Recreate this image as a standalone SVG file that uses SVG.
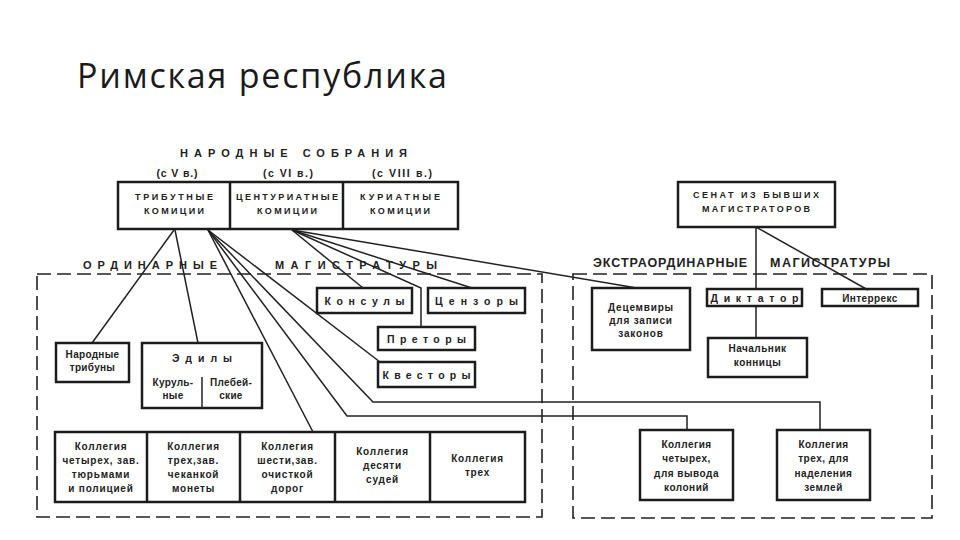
<svg xmlns="http://www.w3.org/2000/svg" width="960" height="540" viewBox="0 0 960 540">
<style>
.bx{fill:none;stroke:#1c1c1c;stroke-width:2.5}
.dash{fill:none;stroke:#222;stroke-width:1.6;stroke-dasharray:14 6}
.ln{fill:none;stroke:#222;stroke-width:1.5}
.t{font-family:"Liberation Sans",Arial,sans-serif;font-weight:bold;fill:#222;text-anchor:middle}
.h{font-size:11px}
.c{font-size:9px}
.m{font-size:10.5px}
.s{font-size:10px;letter-spacing:0.8px}
.title{font-family:"Open Sans","Liberation Sans",sans-serif;font-size:34px;fill:#1a1a1a}
</style>
<rect width="960" height="540" fill="#ffffff"/>
<text class="title" x="77" y="88" textLength="370">Римская республика</text>

<g id="header">
<text class="t h" x="293.5" y="157" textLength="227">НАРОДНЫЕ СОБРАНИЯ</text>
<text class="t" x="177" y="177" style="font-size:10.5px" textLength="41">(с V в.)</text>
<text class="t" x="288" y="177" style="font-size:10.5px" textLength="50">(с VI в.)</text>
<text class="t" x="402" y="177" style="font-size:10.5px" textLength="60">(с VIII в.)</text>
</g>

<g id="comitia">
<rect class="bx" x="118" y="182" width="340" height="47"/>
<line class="bx" x1="230" y1="182" x2="230" y2="229"/>
<line class="bx" x1="343" y1="182" x2="343" y2="229"/>
</g>
<g id="tributnye">
<text class="t c" x="174" y="200" textLength="78">ТРИБУТНЫЕ</text>
<text class="t c" x="174" y="214" textLength="60">КОМИЦИИ</text>
</g>
<g id="centuriatnye">
<text class="t c" x="287" y="200" textLength="102">ЦЕНТУРИАТНЫЕ</text>
<text class="t c" x="287" y="214" textLength="60">КОМИЦИИ</text>
</g>
<g id="kuriatnye">
<text class="t c" x="400" y="200" textLength="80">КУРИАТНЫЕ</text>
<text class="t c" x="400" y="214" textLength="60">КОМИЦИИ</text>
</g>

<g id="senat">
<rect class="bx" x="678" y="182" width="157" height="45"/>
<text class="t c" x="756" y="198" textLength="126">СЕНАТ ИЗ БЫВШИХ</text>
<text class="t c" x="756" y="212" textLength="108">МАГИСТРАТОРОВ</text>
</g>

<g id="ordinary">
<rect class="dash" x="37" y="274" width="505" height="243"/>
<text class="t h" x="150" y="269" textLength="134">ОРДИНАРНЫЕ</text>
<text class="t h" x="356" y="269" textLength="162">МАГИСТРАТУРЫ</text>
</g>

<g id="extraordinary">
<rect class="dash" x="573" y="274" width="359" height="244"/>
<text class="t" x="670" y="267" style="font-size:12.5px" textLength="154">ЭКСТРАОРДИНАРНЫЕ</text>
<text class="t" x="830" y="267" style="font-size:12.5px" textLength="120">МАГИСТРАТУРЫ</text>
</g>

<g id="connectors">
<line class="ln" x1="174" y1="230" x2="92" y2="343"/>
<line class="ln" x1="175" y1="230" x2="198" y2="343"/>
<line class="ln" x1="208" y1="230" x2="380" y2="362"/>
<polyline class="ln" points="208,230 373,402 820,402 820,430"/>
<polyline class="ln" points="208,230 347,416 687,416 687,430"/>
<line class="ln" x1="208" y1="230" x2="313" y2="432"/>
<line class="ln" x1="292" y1="230" x2="363" y2="288"/>
<polyline class="ln" points="292,230 421,288 421,327"/>
<line class="ln" x1="292" y1="230" x2="472" y2="288"/>
<line class="ln" x1="292" y1="230" x2="637" y2="288"/>
<line class="ln" x1="756" y1="227" x2="756" y2="290"/>
<line class="ln" x1="756" y1="227" x2="868" y2="290"/>
<line class="ln" x1="756" y1="305" x2="756" y2="338"/>
</g>

<g id="konsuly">
<rect class="bx" x="317" y="288" width="95" height="25"/>
<text class="t m" x="364.5" y="305" textLength="80">Консулы</text>
</g>
<g id="cenzory">
<rect class="bx" x="428" y="288" width="97" height="25"/>
<text class="t m" x="476.5" y="305" textLength="83">Цензоры</text>
</g>
<g id="pretory">
<rect class="bx" x="378" y="327" width="97" height="23"/>
<text class="t m" x="426.5" y="343" textLength="79">Преторы</text>
</g>
<g id="kvestory">
<rect class="bx" x="378" y="362" width="97" height="25"/>
<text class="t m" x="426.5" y="379" textLength="88">Квесторы</text>
</g>
<g id="tribuny">
<rect class="bx" x="56" y="343" width="73" height="39"/>
<text class="t s" x="92.5" y="358" style="letter-spacing:0.3px">Народные</text>
<text class="t s" x="92.5" y="371" style="letter-spacing:0.3px">трибуны</text>
</g>
<g id="edily">
<rect class="bx" x="142" y="343" width="120" height="65"/>
<line class="ln" x1="202" y1="377" x2="202" y2="408"/>
<text class="t m" x="202" y="362" textLength="60">Эдилы</text>
<text class="t s" x="173" y="386" style="letter-spacing:0.3px">Куруль-</text>
<text class="t s" x="173" y="399" style="letter-spacing:0.3px">ные</text>
<text class="t s" x="231" y="386" style="letter-spacing:0.3px">Плебей-</text>
<text class="t s" x="231" y="399" style="letter-spacing:0.3px">ские</text>
</g>

<g id="kollegii">
<rect class="bx" x="55" y="432" width="470" height="70"/>
<line class="bx" x1="147" y1="432" x2="147" y2="502"/>
<line class="bx" x1="240" y1="432" x2="240" y2="502"/>
<line class="bx" x1="335" y1="432" x2="335" y2="502"/>
<line class="bx" x1="430" y1="432" x2="430" y2="502"/>
</g>
<g id="kol4">
<text class="t s" x="101" y="450">Коллегия</text>
<text class="t s" x="101" y="464">четырех, зав.</text>
<text class="t s" x="101" y="478">тюрьмами</text>
<text class="t s" x="101" y="492">и полицией</text>
</g>
<g id="kol3">
<text class="t s" x="193.5" y="450">Коллегия</text>
<text class="t s" x="193.5" y="464">трех,зав.</text>
<text class="t s" x="193.5" y="478">чеканкой</text>
<text class="t s" x="193.5" y="492">монеты</text>
</g>
<g id="kol6">
<text class="t s" x="287.5" y="450">Коллегия</text>
<text class="t s" x="287.5" y="464">шести,зав.</text>
<text class="t s" x="287.5" y="478">очисткой</text>
<text class="t s" x="287.5" y="492">дорог</text>
</g>
<g id="kol10">
<text class="t s" x="382.5" y="455">Коллегия</text>
<text class="t s" x="382.5" y="469">десяти</text>
<text class="t s" x="382.5" y="483">судей</text>
</g>
<g id="kol3b">
<text class="t s" x="477.5" y="462">Коллегия</text>
<text class="t s" x="477.5" y="476">трех</text>
</g>

<g id="decemviry">
<rect class="bx" x="592" y="288" width="98" height="62"/>
<text class="t s" x="641" y="311">Децемвиры</text>
<text class="t s" x="641" y="324">для записи</text>
<text class="t s" x="641" y="337">законов</text>
</g>
<g id="diktator">
<rect class="bx" x="707" y="289" width="95" height="17"/>
<text class="t m" x="754.5" y="302" textLength="88">Диктатор</text>
</g>
<g id="interreks">
<rect class="bx" x="822" y="289" width="96" height="17"/>
<text class="t s" x="870" y="302" style="letter-spacing:0.4px">Интеррекс</text>
</g>
<g id="nachalnik">
<rect class="bx" x="708" y="338" width="99" height="39"/>
<text class="t s" x="757.5" y="352" style="letter-spacing:0.5px">Начальник</text>
<text class="t s" x="757.5" y="366" style="letter-spacing:0.5px">конницы</text>
</g>
<g id="kol4col">
<rect class="bx" x="640" y="430" width="93" height="70"/>
<text class="t s" x="686.5" y="448" style="letter-spacing:0.5px">Коллегия</text>
<text class="t s" x="686.5" y="462" style="letter-spacing:0.5px">четырех,</text>
<text class="t s" x="686.5" y="477" style="letter-spacing:0.5px">для вывода</text>
<text class="t s" x="686.5" y="491" style="letter-spacing:0.5px">колоний</text>
</g>
<g id="kol3zem">
<rect class="bx" x="777" y="430" width="93" height="70"/>
<text class="t s" x="823.5" y="448" style="letter-spacing:0.5px">Коллегия</text>
<text class="t s" x="823.5" y="462" style="letter-spacing:0.5px">трех, для</text>
<text class="t s" x="823.5" y="477" style="letter-spacing:0.5px">наделения</text>
<text class="t s" x="823.5" y="491" style="letter-spacing:0.5px">землей</text>
</g>
</svg>
